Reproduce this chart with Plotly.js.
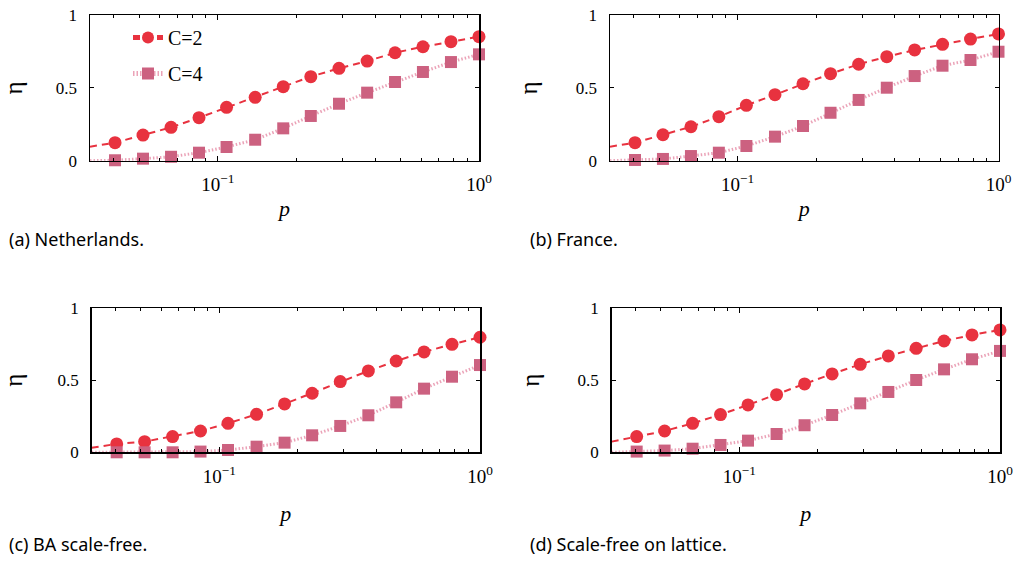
<!DOCTYPE html>
<html>
<head>
<meta charset="utf-8">
<script src="https://cdn.plot.ly/plotly-3.0.1.min.js"></script>
<style>html,body{margin:0;padding:0;background:#fff;}#chart{width:1017px;height:567px;}</style>
</head>
<body>
<div id="chart"></div>
<script>
// p values (log-spaced) and the left axis edge where the fitted lines start
const p = [0.0404, 0.0517, 0.0662, 0.0847, 0.108, 0.139, 0.178, 0.227, 0.291, 0.373, 0.477, 0.610, 0.781, 1.0];
const pEdge = 0.0324;

const netherlandsC2 = [0.124,0.176,0.229,0.295,0.366,0.435,0.508,0.577,0.634,0.684,0.741,0.782,0.817,0.851];
const netherlandsC4 = [0.003,0.014,0.027,0.055,0.094,0.144,0.222,0.307,0.391,0.467,0.540,0.609,0.677,0.730];
const franceC2 = [0.124,0.178,0.233,0.302,0.380,0.453,0.528,0.597,0.662,0.714,0.760,0.799,0.835,0.870];
const franceC4 = [0.005,0.012,0.032,0.055,0.101,0.165,0.238,0.329,0.417,0.501,0.581,0.652,0.691,0.748];
const baC2 = [0.058,0.074,0.109,0.148,0.201,0.264,0.336,0.410,0.491,0.565,0.634,0.697,0.750,0.799];
const baC4 = [0.000,0.000,0.000,0.005,0.016,0.039,0.067,0.118,0.183,0.257,0.347,0.442,0.525,0.606];
const latticeC2 = [0.109,0.148,0.201,0.262,0.329,0.400,0.475,0.544,0.611,0.669,0.722,0.773,0.815,0.850];
const latticeC4 = [0.005,0.012,0.025,0.051,0.081,0.127,0.188,0.259,0.340,0.419,0.502,0.576,0.646,0.704];
// line values at the left axis edge
const edgeC2 = [0.096, 0.096, 0.032, 0.074];
const edgeC4 = [0, 0, 0, 0];

const seriesNames = ['C=2', 'C=4'];
const captions = ['(a) Netherlands.', '(b) France.', '(c) BA scale-free.', '(d) Scale-free on lattice.'];
const yTickVals = [0, 0.5, 1];
const yTickText = ['0', '0.5', '1'];
const xTickVals = [0.1, 1];
const xTickText = ['10<sup>−1</sup>', '10<sup>0</sup>'];
const xMinorVals = [0.04, 0.05, 0.06, 0.07, 0.08, 0.09, 0.2, 0.3, 0.4, 0.5, 0.6, 0.7, 0.8, 0.9];

const panels = [[netherlandsC2, netherlandsC4], [franceC2, franceC4], [baC2, baC4], [latticeC2, latticeC4]];

const red = '#e8323f';
const pink = '#cc6180';
const pinkLine = '#eba3b8';

const W = 1017, H = 567;
const boxes = [
  {l: 90, r: 479, t: 15, b: 160.7},
  {l: 610, r: 998.5, t: 15, b: 160.7},
  {l: 91.7, r: 480, t: 308.3, b: 452.3},
  {l: 611.7, r: 1000, t: 308.3, b: 452.3}
];
const capPos = [{x: 7, y: 239}, {x: 528, y: 239}, {x: 7, y: 544}, {x: 528, y: 544}];
const pStandoff = [6, 6, 20, 20];

const data = [];
const layout = {
  width: W, height: H,
  margin: {l: 0, r: 0, t: 0, b: 0},
  paper_bgcolor: '#fff', plot_bgcolor: '#fff',
  showlegend: true,
  legend: {
    x: 128 / W, y: 1 - 18 / H, xanchor: 'left', yanchor: 'top',
    bgcolor: 'rgba(0,0,0,0)', itemsizing: 'constant',
    font: {family: 'Liberation Serif', size: 20, color: '#000'},
    tracegroupgap: 7
  },
  annotations: []
};

panels.forEach((pair, i) => {
  const n = i + 1;
  const xa = 'x' + (n === 1 ? '' : n), ya = 'y' + (n === 1 ? '' : n);
  const bx = boxes[i];
  const xAxis = {
    type: 'log', domain: [bx.l / W, bx.r / W], range: [Math.log10(pEdge), 0],
    tickmode: 'array', tickvals: xTickVals, ticktext: xTickText,
    ticks: 'inside', ticklen: 5, tickwidth: 1, tickcolor: '#000',
    minor: {ticks: 'inside', ticklen: 3, tickmode: 'array', tickvals: xMinorVals, tickcolor: '#000', showgrid: false},
    showline: true, linecolor: '#000', linewidth: 1.5, mirror: 'allticks',
    showgrid: false, zeroline: false,
    tickfont: {family: 'Liberation Serif', size: 19, color: '#000'},
    ticklabelstandoff: 6,
    title: {text: '<i>p</i>', font: {family: 'Liberation Serif', size: 22, color: '#000'}, standoff: pStandoff[i]},
    anchor: ya, fixedrange: true
  };
  const yAxis = {
    domain: [1 - bx.b / H, 1 - bx.t / H], range: [0, 1],
    tickvals: yTickVals, ticktext: yTickText,
    ticks: 'inside', ticklen: 4, tickwidth: 1, tickcolor: '#000',
    showline: true, linecolor: '#000', linewidth: 1.5, mirror: 'ticks',
    showgrid: false, zeroline: false,
    tickfont: {family: 'Liberation Serif', size: 17, color: '#000'},
    ticklabelstandoff: 8,
    title: {text: 'η', font: {family: 'Liberation Serif', size: 25, color: '#000'}, standoff: 31},
    anchor: xa, fixedrange: true
  };
  layout['xaxis' + (n === 1 ? '' : n)] = xAxis;
  layout['yaxis' + (n === 1 ? '' : n)] = yAxis;

  const sizes = [0].concat(p.map(() => 13));
  const sizesSq = [0].concat(p.map(() => 12));
  data.push({
    type: 'scatter', mode: 'lines+markers', name: seriesNames[0],
    x: [pEdge].concat(p), y: [edgeC2[i]].concat(pair[0]),
    xaxis: xa, yaxis: ya, cliponaxis: false,
    line: {color: red, width: 2, dash: '7px,5px'},
    marker: {symbol: 'circle', size: sizes, color: red, opacity: 1, line: {width: 0}},
    showlegend: i === 0, legendgroup: 'c2', hoverinfo: 'skip'
  });
  data.push({
    type: 'scatter', mode: 'lines+markers', name: seriesNames[1],
    x: [pEdge].concat(p), y: [edgeC4[i]].concat(pair[1]),
    xaxis: xa, yaxis: ya, cliponaxis: false,
    line: {color: pinkLine, width: 3, dash: '1.5px,2px'},
    marker: {symbol: 'square', size: sizesSq, color: pink, opacity: 1, line: {width: 0}},
    showlegend: i === 0, legendgroup: 'c4', hoverinfo: 'skip'
  });

  layout.annotations.push({
    xref: 'paper', yref: 'paper', x: capPos[i].x / W, y: 1 - capPos[i].y / H,
    xanchor: 'left', yanchor: 'middle', showarrow: false, text: captions[i],
    font: {family: 'Noto Sans', size: 18, color: '#000'}
  });
});

Plotly.newPlot('chart', data, layout, {staticPlot: true, displayModeBar: false});
</script>
</body>
</html>
